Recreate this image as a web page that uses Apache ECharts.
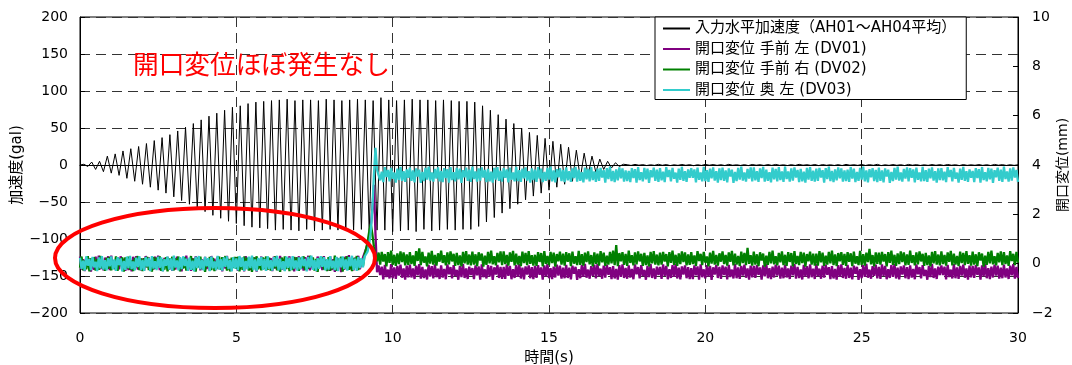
<!DOCTYPE html>
<html>
<head>
<meta charset="utf-8">
<script src="https://cdn.jsdelivr.net/npm/echarts@6/dist/echarts.min.js"></script>
<style>
  html, body { margin: 0; padding: 0; background: #fff; overflow: hidden; }
  #chart { width: 1072px; height: 365px; }
</style>
</head>
<body>
<div id="chart"></div>
<script>
// Shaking table test: input acceleration (left axis, gal) and opening displacement (right axis, mm)

const seriesNames = [
  '入力水平加速度（AH01～AH04平均）',
  '開口変位 手前 左 (DV01)',
  '開口変位 手前 右 (DV02)',
  '開口変位 奥 左 (DV03)'
];
const seriesColors = ['#000000', '#800080', '#008000', '#33CCCC'];

const xTicks = { min: 0, max: 30, interval: 5 };
const accelTicks = { min: -200, max: 200, interval: 50 };
const dispTicks = { min: -2, max: 10, interval: 2 };

// acceleration peaks (gal), one value every 0.125 s from t = 0
const accelStep = 0.125;
const accelValues = [
  0, 1, -2, 4, -6, 5, -9, 12, -11, 15,
  -14, 19, -18, 22, -22, 25, -26, 29, -30, 33,
  -34, 37, -38, 41, -43, 46, -48, 51, -53, 56,
  -58, 61, -63, 66, -68, 70, -72, 74, -76, 78,
  -79, 80, -82, 83, -84, 85, -85, 86, -86, 87,
  -88, 88, -87, 89, -88, 87, -89, 88, -87, 88,
  -89, 87, -88, 89, -87, 88, -88, 87, -89, 88,
  -88, 89, -87, 88, -89, 87, -88, 91, -88, 88,
  -90, 87, -89, 88, -88, 89, -90, 88, -87, 88,
  -89, 87, -88, 88, -87, 87, -88, 86, -87, 86,
  -87, 85, -83, 80, -77, 74, -71, 68, -65, 62,
  -59, 56, -53, 50, -47, 44, -42, 40, -38, 36,
  -34, 32, -30, 28, -26, 24, -22, 20, -18, 16,
  -14, 12, -10, 8, -6, 5, -4, 3, -2, 1,
  0.4, -0.6, 0.8, -0.3, 0.5, -0.7, 0.3, -0.5, 0.9, -0.4,
  0.6, -0.8, 0.3, -0.5, 0.7, -0.4, 0.5, -0.9, 0.4, -0.6,
  0.8, -0.3, 0.6, -0.5, 0.4, -0.7, 0.9, -0.4, 0.3, -0.6,
  0.5, -0.8, 0.7, -0.3, 0.4, -0.6, 0.6, -0.5, 0.8, -0.4,
  0.3, -0.7, 0.5, -0.6, 0.9, -0.3, 0.4, -0.5, 0.7, -0.8,
  0.6, -0.4, 0.3, -0.6, 0.5, -0.7, 0.8, -0.3, 0.4, -0.5,
  0.7, -0.6, 0.5, -0.4, 0.9, -0.8, 0.3, -0.5, 0.6, -0.4,
  0.4, -0.7, 0.8, -0.3, 0.5, -0.6, 0.3, -0.5, 0.6, -0.4,
  0.5, -0.6, 0.7, -0.3, 0.4, -0.8, 0.6, -0.5, 0.3, -0.4,
  0.6, -0.5, 0.4, -0.7, 0.8, -0.3, 0.5, -0.6, 0.4, -0.5,
  0.3
];

// opening displacements (mm), one value every 0.05 s from t = 0
const dispStep = 0.05;
const dv01 = [
  0.29, -0.24, 0.18, -0.30, 0.26, -0.07, 0.21, -0.32, 0.12, -0.25, 0.28, -0.19, 0.33, -0.23, 0.10, -0.27, 0.24, -0.15, 0.30, -0.26,
  0.33, -0.17, 0.14, -0.27, 0.26, -0.23, 0.30, -0.11, 0.20, -0.29, 0.24, -0.26, 0.13, -0.31, 0.28, -0.19, 0.31, -0.24, 0.17, -0.27,
  0.21, -0.28, 0.31, -0.15, 0.25, -0.29, 0.12, -0.24, 0.28, -0.19, 0.33, -0.26, 0.18, -0.30, 0.23, -0.10, 0.27, -0.25, 0.20, -0.29,
  0.25, -0.24, 0.28, -0.11, 0.19, -0.31, 0.27, -0.17, 0.33, -0.25, 0.16, -0.29, 0.22, -0.22, 0.30, -0.14, 0.26, -0.27, 0.18, -0.25,
  0.27, -0.22, 0.13, -0.29, 0.31, -0.09, 0.20, -0.26, 0.28, -0.16, 0.09, -0.31, 0.25, -0.20, 0.32, -0.24, 0.15, -0.28, 0.22, -0.12,
  0.16, -0.29, 0.27, -0.13, 0.23, -0.31, 0.31, -0.21, 0.11, -0.26, 0.28, -0.18, 0.25, -0.32, 0.19, -0.10, 0.29, -0.24, 0.21, -0.28,
  0.27, -0.12, 0.22, -0.30, 0.29, -0.20, 0.10, -0.26, 0.32, -0.25, 0.19, -0.28, 0.25, -0.14, 0.30, -0.23, 0.15, -0.31, 0.26, -0.21,
  0.30, -0.22, 0.15, -0.28, 0.26, -0.13, 0.32, -0.27, 0.21, -0.24, 0.11, -0.30, 0.29, -0.18, 0.24, -0.26, 0.31, -0.21, 0.14, -0.28,
  0.31, -0.26, 0.18, -0.33, 0.26, -0.07, 0.21, -0.34, 0.12, -0.25, 0.30, -0.19, 0.35, -0.23, 0.10, -0.27, 0.24, -0.15, 0.32, -0.22,
  -0.2, 0.25, 0.3, 0.6, 0.8, 1.1, 1.5, 2.2, 3.2, 1.2, -0.35,
  -0.07, -0.46, -0.12, -0.64, -0.05, -0.54, -0.24, -0.60, -0.02, -0.59, -0.15, -0.62, -0.09, -0.48, -0.04, -0.57, -0.19, -0.65, -0.08, -0.55,
  -0.04, -0.56, -0.19, -0.62, -0.08, -0.47, -0.02, -0.61, -0.13, -0.58, -0.23, -0.64, -0.05, -0.52, -0.10, -0.60, -0.03, -0.55, -0.20, -0.62,
  -0.07, -0.56, -0.21, -0.63, -0.03, -0.43, -0.14, -0.60, -0.06, -0.50, -0.25, -0.65, -0.09, -0.54, -0.02, -0.58, -0.19, -0.62, -0.12, -0.46,
  -0.18, -0.63, -0.07, -0.47, -0.11, -0.65, -0.03, -0.55, -0.23, -0.60, -0.06, -0.52, -0.09, -0.66, -0.15, -0.44, -0.05, -0.58, -0.13, -0.62,
  -0.13, -0.62, -0.03, -0.49, -0.09, -0.63, -0.22, -0.58, -0.06, -0.53, -0.01, -0.60, -0.16, -0.64, -0.11, -0.44, -0.07, -0.59, -0.14, -0.63,
  -0.09, -0.58, -0.06, -0.45, -0.15, -0.65, -0.07, -0.51, -0.01, -0.59, -0.18, -0.63, -0.12, -0.56, -0.04, -0.48, -0.08, -0.61, -0.16, -0.59,
  -0.05, -0.58, -0.16, -0.64, -0.08, -0.41, -0.13, -0.66, -0.22, -0.59, -0.06, -0.53, -0.01, -0.57, -0.24, -0.61, -0.10, -0.49, -0.04, -0.60,
  -0.01, -0.51, -0.20, -0.61, -0.08, -0.57, -0.04, -0.45, -0.14, -0.63, -0.10, -0.60, -0.21, -0.65, -0.06, -0.53, -0.03, -0.58, -0.17, -0.61,
  -0.07, -0.56, -0.21, -0.63, -0.03, -0.43, -0.14, -0.60, -0.06, -0.50, -0.25, -0.65, -0.09, -0.54, -0.02, -0.58, -0.19, -0.62, -0.12, -0.46,
  -0.13, -0.62, -0.03, -0.49, -0.09, -0.63, -0.22, -0.58, -0.06, -0.53, -0.01, -0.60, -0.16, -0.64, -0.11, -0.44, -0.07, -0.59, -0.14, -0.63,
  -0.18, -0.63, -0.07, -0.47, -0.11, -0.65, -0.03, -0.55, -0.23, -0.60, -0.06, -0.52, -0.09, -0.66, -0.15, -0.44, -0.05, -0.58, -0.13, -0.62,
  -0.07, -0.46, -0.12, -0.64, -0.05, -0.54, -0.24, -0.60, -0.02, -0.59, -0.15, -0.62, -0.09, -0.48, -0.04, -0.57, -0.19, -0.65, -0.08, -0.55,
  -0.09, -0.58, -0.06, -0.45, -0.15, -0.65, -0.07, -0.51, -0.01, -0.59, -0.18, -0.63, -0.12, -0.56, -0.04, -0.48, -0.08, -0.61, -0.16, -0.59,
  -0.04, -0.56, -0.19, -0.62, -0.08, -0.47, -0.02, -0.61, -0.13, -0.58, -0.23, -0.64, -0.05, -0.52, -0.10, -0.60, -0.03, -0.55, -0.20, -0.62,
  -0.01, -0.51, -0.20, -0.61, -0.08, -0.57, -0.04, -0.45, -0.14, -0.63, -0.10, -0.60, -0.21, -0.65, -0.06, -0.53, -0.03, -0.58, -0.17, -0.61,
  -0.05, -0.58, -0.16, -0.64, -0.08, -0.41, -0.13, -0.66, -0.22, -0.59, -0.06, -0.53, -0.01, -0.57, -0.24, -0.61, -0.10, -0.49, -0.04, -0.60,
  -0.13, -0.62, -0.03, -0.49, -0.09, -0.63, -0.22, -0.58, -0.06, -0.53, -0.01, -0.60, -0.16, -0.64, -0.11, -0.44, -0.07, -0.59, -0.14, -0.63,
  -0.07, -0.56, -0.21, -0.63, -0.03, -0.43, -0.14, -0.60, -0.06, -0.50, -0.25, -0.65, -0.09, -0.54, -0.02, -0.58, -0.19, -0.62, -0.12, -0.46,
  -0.07, -0.46, -0.12, -0.64, -0.05, -0.54, -0.24, -0.60, -0.02, -0.59, -0.15, -0.62, -0.09, -0.48, -0.04, -0.57, -0.19, -0.65, -0.08, -0.55,
  -0.09, -0.58, -0.06, -0.45, -0.15, -0.65, -0.07, -0.51, -0.01, -0.59, -0.18, -0.63, -0.12, -0.56, -0.04, -0.48, -0.08, -0.61, -0.16, -0.59,
  -0.04, -0.56, -0.19, -0.62, -0.08, -0.47, -0.02, -0.61, -0.13, -0.58
];
const dv02 = [
  -0.16, 0.29, -0.27, 0.13, -0.23, 0.31, -0.31, 0.21, -0.11, 0.26, -0.28, 0.18, -0.25, 0.32, -0.19, 0.10, -0.29, 0.24, -0.21, 0.28,
  -0.27, 0.12, -0.22, 0.30, -0.29, 0.20, -0.10, 0.26, -0.32, 0.25, -0.19, 0.28, -0.25, 0.14, -0.30, 0.23, -0.15, 0.31, -0.26, 0.21,
  -0.30, 0.22, -0.15, 0.28, -0.26, 0.13, -0.32, 0.27, -0.21, 0.24, -0.11, 0.30, -0.29, 0.18, -0.24, 0.26, -0.31, 0.21, -0.14, 0.28,
  -0.27, 0.22, -0.13, 0.29, -0.31, 0.09, -0.20, 0.26, -0.28, 0.16, -0.09, 0.31, -0.25, 0.20, -0.32, 0.24, -0.15, 0.28, -0.22, 0.12,
  -0.33, 0.17, -0.14, 0.27, -0.26, 0.23, -0.30, 0.11, -0.20, 0.29, -0.24, 0.26, -0.13, 0.31, -0.28, 0.19, -0.31, 0.24, -0.17, 0.27,
  -0.21, 0.28, -0.31, 0.15, -0.25, 0.29, -0.12, 0.24, -0.28, 0.19, -0.33, 0.26, -0.18, 0.30, -0.23, 0.10, -0.27, 0.25, -0.20, 0.29,
  -0.25, 0.24, -0.28, 0.11, -0.19, 0.31, -0.27, 0.17, -0.33, 0.25, -0.16, 0.29, -0.22, 0.22, -0.30, 0.14, -0.26, 0.27, -0.18, 0.25,
  -0.29, 0.24, -0.18, 0.30, -0.26, 0.07, -0.21, 0.32, -0.12, 0.25, -0.28, 0.19, -0.33, 0.23, -0.10, 0.27, -0.24, 0.15, -0.30, 0.26,
  -0.29, 0.12, -0.22, 0.33, -0.29, 0.20, -0.10, 0.28, -0.32, 0.25, -0.19, 0.30, -0.25, 0.14, -0.30, 0.23, -0.15, 0.31, -0.26, 0.18,
  0.2, -0.1, 0.35, 0.6, 0.9, 1.3, 1.6, 1.2, 0.7, 0.3, 0.1,
  0.45, -0.04, 0.48, 0.09, 0.39, -0.11, 0.47, 0.03, 0.53, -0.05, 0.36, -0.09, 0.42, -0.02, 0.50, 0.06, 0.46, -0.07, 0.38, -0.05,
  0.47, -0.02, 0.33, -0.09, 0.51, 0.11, 0.62, -0.06, 0.48, 0.04, 0.29, -0.11, 0.45, 0.00, 0.52, -0.04, 0.35, -0.08, 0.42, 0.08,
  0.53, 0.03, 0.34, -0.07, 0.46, -0.03, 0.50, 0.09, 0.40, -0.09, 0.44, -0.06, 0.33, -0.11, 0.48, 0.01, 0.51, -0.04, 0.37, -0.07,
  0.49, -0.04, 0.38, -0.10, 0.46, 0.13, 0.41, -0.12, 0.32, -0.05, 0.48, 0.01, 0.53, -0.03, 0.30, -0.07, 0.44, 0.05, 0.50, -0.06,
  0.50, -0.02, 0.35, -0.08, 0.46, 0.07, 0.52, -0.07, 0.41, -0.04, 0.31, -0.10, 0.49, 0.02, 0.44, -0.06, 0.51, -0.01, 0.34, -0.08,
  0.36, -0.09, 0.47, 0.07, 0.43, -0.11, 0.51, -0.01, 0.31, -0.06, 0.48, 0.02, 0.45, -0.12, 0.39, 0.10, 0.49, -0.04, 0.41, -0.08,
  0.47, 0.08, 0.42, -0.10, 0.49, 0.00, 0.30, -0.06, 0.52, -0.05, 0.39, -0.08, 0.45, 0.06, 0.50, -0.03, 0.35, -0.11, 0.46, -0.01,
  0.41, -0.08, 0.51, 0.05, 0.45, -0.09, 0.32, -0.04, 0.48, 0.01, 0.53, -0.06, 0.75, -0.10, 0.43, 0.10, 0.47, -0.05, 0.40, -0.09,
  0.53, 0.03, 0.34, -0.07, 0.46, -0.03, 0.50, 0.09, 0.40, -0.09, 0.44, -0.06, 0.33, -0.11, 0.48, 0.01, 0.51, -0.04, 0.37, -0.07,
  0.45, -0.04, 0.48, 0.09, 0.39, -0.11, 0.47, 0.03, 0.53, -0.05, 0.36, -0.09, 0.42, -0.02, 0.50, 0.06, 0.46, -0.07, 0.38, -0.05,
  0.47, -0.02, 0.33, -0.09, 0.51, 0.11, 0.40, -0.06, 0.48, 0.04, 0.29, -0.11, 0.45, 0.00, 0.52, -0.04, 0.35, -0.08, 0.42, 0.08,
  0.50, -0.02, 0.35, -0.08, 0.46, 0.07, 0.52, -0.07, 0.41, -0.04, 0.31, -0.10, 0.49, 0.02, 0.44, -0.06, 0.64, -0.01, 0.34, -0.08,
  0.49, -0.04, 0.38, -0.10, 0.46, 0.13, 0.41, -0.12, 0.32, -0.05, 0.48, 0.01, 0.53, -0.03, 0.30, -0.07, 0.44, 0.05, 0.50, -0.06,
  0.36, -0.09, 0.47, 0.07, 0.43, -0.11, 0.51, -0.01, 0.31, -0.06, 0.48, 0.02, 0.45, -0.12, 0.39, 0.10, 0.49, -0.04, 0.41, -0.08,
  0.41, -0.08, 0.51, 0.05, 0.45, -0.09, 0.32, -0.04, 0.48, 0.01, 0.53, -0.06, 0.38, -0.10, 0.43, 0.10, 0.47, -0.05, 0.40, -0.09,
  0.47, 0.08, 0.42, -0.10, 0.49, 0.00, 0.30, -0.06, 0.52, -0.05, 0.39, -0.08, 0.45, 0.06, 0.60, -0.03, 0.35, -0.11, 0.46, -0.01,
  0.45, -0.04, 0.48, 0.09, 0.39, -0.11, 0.47, 0.03, 0.53, -0.05, 0.36, -0.09, 0.42, -0.02, 0.50, 0.06, 0.46, -0.07, 0.38, -0.05,
  0.53, 0.03, 0.34, -0.07, 0.46, -0.03, 0.50, 0.09, 0.40, -0.09, 0.44, -0.06, 0.33, -0.11, 0.48, 0.01, 0.51, -0.04, 0.37, -0.07,
  0.50, -0.02, 0.35, -0.08, 0.46, 0.07, 0.52, -0.07, 0.41, -0.04, 0.31, -0.10, 0.49, 0.02, 0.44, -0.06, 0.51, -0.01, 0.34, -0.08,
  0.49, -0.04, 0.38, -0.10, 0.46, 0.13, 0.41, -0.12, 0.32, -0.05, 0.48, 0.01, 0.53, -0.03, 0.30, -0.07, 0.44, 0.05, 0.50, -0.06,
  0.47, -0.02, 0.33, -0.09, 0.51, 0.11, 0.40, -0.06, 0.48, 0.04
];
const dv03 = [
  0.24, -0.21, 0.12, -0.28, 0.30, -0.08, 0.19, -0.26, 0.27, -0.15, 0.08, -0.30, 0.25, -0.19, 0.31, -0.24, 0.14, -0.27, 0.22, -0.11,
  0.29, -0.23, 0.17, -0.29, 0.26, -0.06, 0.21, -0.31, 0.11, -0.25, 0.28, -0.18, 0.32, -0.22, 0.09, -0.27, 0.24, -0.14, 0.30, -0.26,
  0.15, -0.29, 0.27, -0.12, 0.23, -0.30, 0.31, -0.20, 0.10, -0.26, 0.28, -0.17, 0.25, -0.31, 0.18, -0.09, 0.29, -0.24, 0.21, -0.28,
  0.33, -0.16, 0.13, -0.27, 0.26, -0.22, 0.30, -0.10, 0.20, -0.29, 0.24, -0.25, 0.12, -0.31, 0.28, -0.18, 0.31, -0.23, 0.16, -0.27,
  0.27, -0.11, 0.22, -0.30, 0.29, -0.19, 0.09, -0.26, 0.32, -0.24, 0.18, -0.28, 0.25, -0.13, 0.30, -0.22, 0.14, -0.31, 0.26, -0.20,
  0.21, -0.27, 0.31, -0.14, 0.25, -0.29, 0.11, -0.23, 0.28, -0.18, 0.33, -0.26, 0.17, -0.30, 0.23, -0.09, 0.27, -0.25, 0.19, -0.29,
  0.30, -0.21, 0.14, -0.28, 0.26, -0.12, 0.32, -0.27, 0.20, -0.24, 0.10, -0.30, 0.29, -0.17, 0.24, -0.26, 0.31, -0.20, 0.13, -0.28,
  0.25, -0.23, 0.28, -0.10, 0.19, -0.31, 0.27, -0.16, 0.33, -0.25, 0.15, -0.29, 0.22, -0.21, 0.30, -0.13, 0.26, -0.27, 0.18, -0.24,
  0.31, -0.19, 0.12, -0.26, 0.28, -0.30, 0.23, -0.15, 0.29, -0.22, 0.17, -0.28, 0.26, -0.11, 0.32, -0.25, 0.20, -0.29, 0.27, -0.18,
  0.22, -0.15, 0.28, 0.2, 0.5, 0.8, 1.3, 2.2, 3.6, 4.7, 3.8,
  3.87, 3.38, 3.73, 3.31, 3.91, 3.51, 3.80, 3.34, 3.88, 3.44, 3.69, 3.29, 3.85, 3.40, 3.92, 3.36, 3.75, 3.32, 3.82, 3.48,
  3.89, 3.36, 3.78, 3.30, 3.86, 3.53, 3.81, 3.28, 3.72, 3.35, 3.88, 3.41, 3.93, 3.37, 3.70, 3.33, 3.84, 3.45, 3.90, 3.34,
  3.76, 3.31, 3.87, 3.47, 3.83, 3.29, 3.91, 3.39, 3.71, 3.34, 3.88, 3.42, 3.85, 3.28, 3.79, 3.50, 3.89, 3.36, 3.81, 3.32,
  3.93, 3.43, 3.74, 3.33, 3.86, 3.37, 3.90, 3.49, 3.80, 3.31, 3.84, 3.34, 3.73, 3.29, 3.88, 3.41, 3.91, 3.36, 3.77, 3.33,
  3.87, 3.48, 3.82, 3.30, 3.89, 3.40, 3.70, 3.34, 3.92, 3.35, 3.79, 3.32, 3.85, 3.46, 3.90, 3.37, 3.75, 3.29, 3.86, 3.39,
  3.81, 3.32, 3.91, 3.45, 3.85, 3.31, 3.72, 3.36, 3.88, 3.41, 3.93, 3.34, 3.78, 3.30, 3.83, 3.50, 3.87, 3.35, 3.80, 3.31,
  3.90, 3.38, 3.75, 3.32, 3.86, 3.47, 3.92, 3.33, 3.81, 3.36, 3.71, 3.30, 3.89, 3.42, 3.84, 3.34, 3.91, 3.39, 3.74, 3.32,
  3.85, 3.36, 3.88, 3.49, 3.79, 3.29, 3.87, 3.43, 3.93, 3.35, 3.76, 3.31, 3.82, 3.38, 3.90, 3.46, 3.86, 3.33, 3.78, 3.35,
  3.76, 3.31, 3.87, 3.47, 3.83, 3.29, 3.91, 3.39, 3.71, 3.34, 3.88, 3.42, 3.85, 3.28, 3.79, 3.50, 3.89, 3.36, 3.81, 3.32,
  3.87, 3.38, 3.73, 3.31, 3.91, 3.51, 3.80, 3.34, 3.88, 3.44, 3.69, 3.29, 3.85, 3.40, 3.92, 3.36, 3.75, 3.32, 3.82, 3.48,
  3.87, 3.48, 3.82, 3.30, 3.89, 3.40, 3.70, 3.34, 3.92, 3.35, 3.79, 3.32, 3.85, 3.46, 3.90, 3.37, 3.75, 3.29, 3.86, 3.39,
  3.89, 3.36, 3.78, 3.30, 3.86, 3.53, 3.81, 3.28, 3.72, 3.35, 3.88, 3.41, 3.93, 3.37, 3.70, 3.33, 3.84, 3.45, 3.90, 3.34,
  3.90, 3.38, 3.75, 3.32, 3.86, 3.47, 3.92, 3.33, 3.81, 3.36, 3.71, 3.30, 3.89, 3.42, 3.84, 3.34, 3.91, 3.39, 3.74, 3.32,
  3.93, 3.43, 3.74, 3.33, 3.86, 3.37, 3.90, 3.49, 3.80, 3.31, 3.84, 3.34, 3.73, 3.29, 3.88, 3.41, 3.91, 3.36, 3.77, 3.33,
  3.85, 3.36, 3.88, 3.49, 3.79, 3.29, 3.87, 3.43, 3.93, 3.35, 3.76, 3.31, 3.82, 3.38, 3.90, 3.46, 3.86, 3.33, 3.78, 3.35,
  3.81, 3.32, 3.91, 3.45, 3.85, 3.31, 3.72, 3.36, 3.88, 3.41, 3.93, 3.34, 3.78, 3.30, 3.83, 3.50, 3.87, 3.35, 3.80, 3.31,
  3.89, 3.36, 3.78, 3.30, 3.86, 3.53, 3.81, 3.28, 3.72, 3.35, 3.88, 3.41, 3.93, 3.37, 3.70, 3.33, 3.84, 3.45, 3.90, 3.34,
  3.87, 3.48, 3.82, 3.30, 3.89, 3.40, 3.70, 3.34, 3.92, 3.35, 3.79, 3.32, 3.85, 3.46, 3.90, 3.37, 3.75, 3.29, 3.86, 3.39,
  3.87, 3.38, 3.73, 3.31, 3.91, 3.51, 3.80, 3.34, 3.88, 3.44, 3.69, 3.29, 3.85, 3.40, 3.92, 3.36, 3.75, 3.32, 3.82, 3.48,
  3.76, 3.31, 3.87, 3.47, 3.83, 3.29, 3.91, 3.39, 3.71, 3.34, 3.88, 3.42, 3.85, 3.28, 3.79, 3.50, 3.89, 3.36, 3.81, 3.32,
  3.93, 3.43, 3.74, 3.33, 3.86, 3.37, 3.90, 3.49, 3.80, 3.31
];

const annotationText = '開口変位ほぼ発生なし';

const FONT = '"DejaVu Sans", "Noto Sans CJK JP", sans-serif';
const CJK_FONT = '"Noto Sans CJK JP", sans-serif';

function toPairs(values, step) {
  return values.map((v, i) => [i * step, v]);
}
function minusSign(v) {
  return String(v).replace('-', '\u2212');
}

const chart = echarts.init(document.getElementById('chart'), null, { renderer: 'canvas' });

const dashedGrid = { show: true, lineStyle: { color: '#333', type: [10, 6], width: 1 } };
const bandWidth = 2.3;

const option = {
  animation: false,
  backgroundColor: '#fff',
  textStyle: { fontFamily: FONT },
  grid: {
    left: 80, right: 54, top: 17, bottom: 52,
    containLabel: false, outerBoundsMode: 'none',
    show: true, borderColor: '#000', borderWidth: 1, backgroundColor: 'transparent'
  },
  legend: {
    orient: 'vertical',
    left: 655, top: 17,
    data: seriesNames,
    icon: 'rect',
    itemWidth: 27, itemHeight: 2,
    itemGap: 5.5,
    padding: [4, 10, 2, 8],
    backgroundColor: '#fff',
    borderColor: '#000', borderWidth: 1,
    textStyle: { fontFamily: FONT, fontSize: 15, color: '#000' }
  },
  xAxis: {
    type: 'value',
    min: xTicks.min, max: xTicks.max, interval: xTicks.interval,
    name: '時間(s)', nameLocation: 'middle', nameGap: 38, nameMoveOverlap: false,
    nameTextStyle: { fontFamily: FONT, fontSize: 15, color: '#000' },
    axisLine: { lineStyle: { color: '#000', width: 1 } },
    axisTick: { inside: true, length: 5, lineStyle: { color: '#000' } },
    axisLabel: { fontFamily: FONT, fontSize: 14, color: '#000', margin: 18 },
    splitLine: dashedGrid
  },
  yAxis: [
    {
      type: 'value', position: 'left',
      min: accelTicks.min, max: accelTicks.max, interval: accelTicks.interval,
      name: '加速度(gal)', nameLocation: 'middle', nameRotate: 90, nameGap: 55, nameMoveOverlap: false,
      nameTextStyle: { fontFamily: FONT, fontSize: 15, color: '#000' },
      axisLine: { show: true, lineStyle: { color: '#000', width: 1 } },
      axisTick: { show: true, inside: true, length: 5, lineStyle: { color: '#000' } },
      axisLabel: { fontFamily: FONT, fontSize: 14, color: '#000', margin: 12, formatter: minusSign },
      splitLine: dashedGrid
    },
    {
      type: 'value', position: 'right',
      min: dispTicks.min, max: dispTicks.max, interval: dispTicks.interval,
      name: '開口変位(mm)', nameLocation: 'middle', nameRotate: 90, nameGap: 38, nameMoveOverlap: false,
      nameTextStyle: { fontFamily: FONT, fontSize: 14, color: '#000' },
      axisLine: { show: true, lineStyle: { color: '#000', width: 1 } },
      axisTick: { show: true, inside: true, length: 5, lineStyle: { color: '#000' } },
      axisLabel: { fontFamily: FONT, fontSize: 14, color: '#000', margin: 14, formatter: minusSign },
      splitLine: { show: false }
    }
  ],
  series: [
    {
      name: seriesNames[0], type: 'line', yAxisIndex: 0,
      data: toPairs(accelValues, accelStep),
      showSymbol: false, symbol: 'none',
      lineStyle: { color: seriesColors[0], width: 1 },
      itemStyle: { color: seriesColors[0] },
      markLine: {
        silent: true, symbol: 'none', label: { show: false },
        lineStyle: { color: '#000', width: 1, type: 'solid' },
        data: [{ yAxis: 0 }]
      }
    },
    {
      name: seriesNames[1], type: 'line', yAxisIndex: 1,
      data: toPairs(dv01, dispStep),
      showSymbol: false, symbol: 'none',
      lineStyle: { color: seriesColors[1], width: bandWidth },
      itemStyle: { color: seriesColors[1] }
    },
    {
      name: seriesNames[2], type: 'line', yAxisIndex: 1,
      data: toPairs(dv02, dispStep),
      showSymbol: false, symbol: 'none',
      lineStyle: { color: seriesColors[2], width: bandWidth },
      itemStyle: { color: seriesColors[2] }
    },
    {
      name: seriesNames[3], type: 'line', yAxisIndex: 1,
      data: toPairs(dv03, dispStep),
      showSymbol: false, symbol: 'none',
      lineStyle: { color: seriesColors[3], width: bandWidth },
      itemStyle: { color: seriesColors[3] }
    }
  ],
  graphic: [
    {
      type: 'text', left: 133, top: 51, z: 100,
      style: { text: annotationText, fill: '#ff0000', font: '25.7px ' + CJK_FONT }
    },
    {
      type: 'ellipse', z: 100, silent: true,
      shape: { cx: 215, cy: 258, rx: 160, ry: 50 },
      style: { fill: 'none', stroke: '#ff0000', lineWidth: 4 }
    }
  ]
};

chart.setOption(option);
</script>
</body>
</html>
